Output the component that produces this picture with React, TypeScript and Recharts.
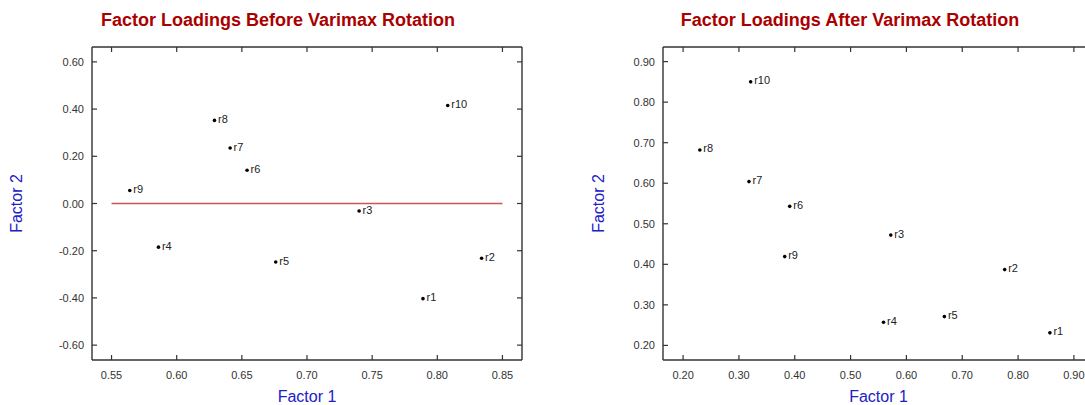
import React from 'react';
import { ScatterChart, Scatter, XAxis, YAxis, ReferenceLine } from 'recharts';

// ---- data ----
const VARIABLES = ['r1', 'r2', 'r3', 'r4', 'r5', 'r6', 'r7', 'r8', 'r9', 'r10'];
const BEFORE_F1 = [0.789, 0.834, 0.74, 0.586, 0.676, 0.654, 0.641, 0.629, 0.564, 0.808];
const BEFORE_F2 = [-0.403, -0.232, -0.032, -0.185, -0.248, 0.141, 0.235, 0.352, 0.055, 0.415];
const AFTER_F1 = [0.857, 0.776, 0.572, 0.559, 0.668, 0.391, 0.318, 0.23, 0.382, 0.321];
const AFTER_F2 = [0.231, 0.387, 0.472, 0.257, 0.271, 0.543, 0.604, 0.682, 0.419, 0.85];

const BEFORE_X_TICKS = [0.55, 0.6, 0.65, 0.7, 0.75, 0.8, 0.85];
const BEFORE_Y_TICKS = [-0.6, -0.4, -0.2, 0, 0.2, 0.4, 0.6];
const AFTER_X_TICKS = [0.2, 0.3, 0.4, 0.5, 0.6, 0.7, 0.8, 0.9];
const AFTER_Y_TICKS = [0.2, 0.3, 0.4, 0.5, 0.6, 0.7, 0.8, 0.9];

const BEFORE_X_DOMAIN = [0.535, 0.865];
const BEFORE_Y_DOMAIN = [-0.663, 0.663];
const AFTER_X_DOMAIN = [0.164, 0.936];
const AFTER_Y_DOMAIN = [0.164, 0.936];

const ZERO_LINE_X = [0.55, 0.85];
const ZERO_LINE_Y = 0;

const TITLE_BEFORE = 'Factor Loadings Before Varimax Rotation';
const TITLE_AFTER = 'Factor Loadings After Varimax Rotation';
const X_LABEL = 'Factor 1';
const Y_LABEL = 'Factor 2';

const beforeData = VARIABLES.map((name, i) => ({ name, x: BEFORE_F1[i], y: BEFORE_F2[i] }));
const afterData = VARIABLES.map((name, i) => ({ name, x: AFTER_F1[i], y: AFTER_F2[i] }));

// ---- styling / layout ----
const FONT = '"Liberation Sans", Arial, Helvetica, sans-serif';
const H = 405;
const PLOT_TOP = 47;
const X_AXIS_H = 45;
const PLOT_BOTTOM = H - X_AXIS_H;
const FRAME = '#333';
const TICK_LEN = 5;

const fmt = (v: number) => v.toFixed(2);

const PointShape = (props: any) => {
  const { cx, cy, payload } = props;
  if (cx == null || cy == null) return null;
  return (
    <g>
      <circle cx={cx} cy={cy} r={1.8} fill="#000" />
      <text x={cx + 3.5} y={cy + 2.5} fontSize={11} fontFamily={FONT} fill="#222">
        {payload.name}
      </text>
    </g>
  );
};

type PanelProps = {
  left: number;
  width: number;
  yAxisWidth: number;
  marginRight: number;
  data: { name: string; x: number; y: number }[];
  xDomain: number[];
  yDomain: number[];
  xTicks: number[];
  yTicks: number[];
  yLabelX: number;
  zeroLine?: boolean;
};

const Panel = (p: PanelProps) => {
  const plotLeft = p.yAxisWidth;
  const plotRight = p.width - p.marginRight;
  const plotCenterX = (plotLeft + plotRight) / 2;
  const plotCenterY = (PLOT_TOP + PLOT_BOTTOM) / 2;

  const XTick = (props: any) => {
    const { x, y, payload } = props;
    return (
      <g>
        <line x1={x} y1={y} x2={x} y2={y - TICK_LEN} stroke={FRAME} strokeWidth={1.2} />
        <line x1={x} y1={PLOT_TOP} x2={x} y2={PLOT_TOP + TICK_LEN} stroke={FRAME} strokeWidth={1.2} />
        <text x={x} y={y + 19} textAnchor="middle" fontSize={11} fontFamily={FONT} fill="#333">
          {fmt(payload.value)}
        </text>
      </g>
    );
  };

  const YTick = (props: any) => {
    const { x, y, payload } = props;
    return (
      <g>
        <line x1={x} y1={y} x2={x + TICK_LEN} y2={y} stroke={FRAME} strokeWidth={1.2} />
        <line x1={plotRight - TICK_LEN} y1={y} x2={plotRight} y2={y} stroke={FRAME} strokeWidth={1.2} />
        <text x={x - 8} y={y + 4} textAnchor="end" fontSize={11} fontFamily={FONT} fill="#333">
          {fmt(payload.value)}
        </text>
      </g>
    );
  };

  const XLabel = () => (
    <text x={plotCenterX} y={402} textAnchor="middle" fontSize={16} fontFamily={FONT} fill="#2020c8">
      {X_LABEL}
    </text>
  );

  const YLabel = () => (
    <text
      x={p.yLabelX}
      y={plotCenterY}
      textAnchor="middle"
      fontSize={16}
      fontFamily={FONT}
      fill="#2020c8"
      transform={`rotate(-90, ${p.yLabelX}, ${plotCenterY})`}
    >
      {Y_LABEL}
    </text>
  );

  return (
    <div style={{ position: 'absolute', left: p.left, top: 0 }}>
      <ScatterChart
        width={p.width}
        height={H}
        margin={{ top: PLOT_TOP, right: p.marginRight, bottom: 0, left: 0 }}
      >
        <XAxis
          type="number"
          dataKey="x"
          domain={p.xDomain}
          ticks={p.xTicks}
          allowDataOverflow
          height={X_AXIS_H}
          tickSize={0}
          tickMargin={0}
          tickLine={false}
          tick={XTick}
          interval={0}
          axisLine={{ stroke: FRAME, strokeWidth: 1.4 }}
          label={{ content: XLabel }}
        />
        <YAxis
          type="number"
          dataKey="y"
          domain={p.yDomain}
          ticks={p.yTicks}
          allowDataOverflow
          width={p.yAxisWidth}
          tickSize={0}
          tickMargin={0}
          tickLine={false}
          tick={YTick}
          interval={0}
          axisLine={{ stroke: FRAME, strokeWidth: 1.4 }}
          label={{ content: YLabel }}
        />
        <ReferenceLine y={p.yDomain[1]} stroke={FRAME} strokeWidth={1.4} ifOverflow="visible" />
        <ReferenceLine x={p.xDomain[1]} stroke={FRAME} strokeWidth={1.4} ifOverflow="visible" />
        {p.zeroLine && (
          <ReferenceLine
            segment={[
              { x: ZERO_LINE_X[0], y: ZERO_LINE_Y },
              { x: ZERO_LINE_X[1], y: ZERO_LINE_Y },
            ]}
            stroke="#cc5555"
            strokeWidth={1.5}
            ifOverflow="visible"
          />
        )}
        <Scatter data={p.data} shape={PointShape} isAnimationActive={false} />
      </ScatterChart>
    </div>
  );
};

export default function App() {
  return (
    <div
      style={{
        position: 'fixed',
        left: 0,
        top: 0,
        width: 1085,
        height: H,
        overflow: 'hidden',
        background: '#fff',
      }}
    >
      <Panel
        left={0}
        width={540}
        yAxisWidth={92}
        marginRight={18}
        data={beforeData}
        xDomain={BEFORE_X_DOMAIN}
        yDomain={BEFORE_Y_DOMAIN}
        xTicks={BEFORE_X_TICKS}
        yTicks={BEFORE_Y_TICKS}
        yLabelX={22}
        zeroLine
      />
      <Panel
        left={545}
        width={560}
        yAxisWidth={118}
        marginRight={11}
        data={afterData}
        xDomain={AFTER_X_DOMAIN}
        yDomain={AFTER_Y_DOMAIN}
        xTicks={AFTER_X_TICKS}
        yTicks={AFTER_Y_TICKS}
        yLabelX={59}
      />
      <svg
        width={1085}
        height={H}
        style={{ position: 'absolute', left: 0, top: 0, pointerEvents: 'none' }}
      >
        <text x={278} y={26} textAnchor="middle" fontSize={18} fontWeight="bold" fontFamily={FONT} fill="#aa0000">
          {TITLE_BEFORE}
        </text>
        <text x={850} y={26} textAnchor="middle" fontSize={18} fontWeight="bold" fontFamily={FONT} fill="#aa0000">
          {TITLE_AFTER}
        </text>
      </svg>
    </div>
  );
}
